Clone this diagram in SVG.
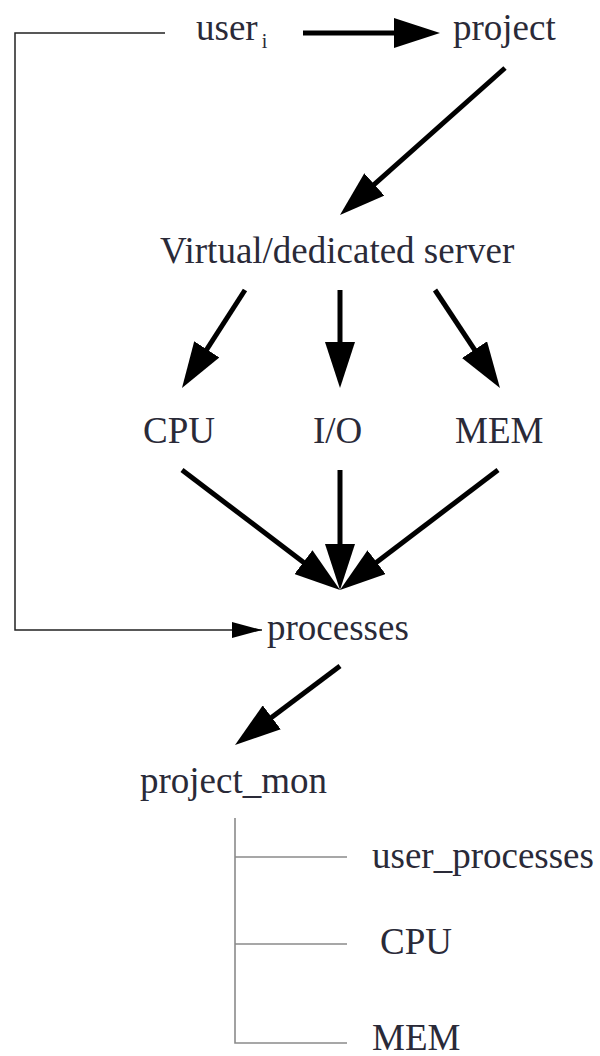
<svg xmlns="http://www.w3.org/2000/svg" width="600" height="1056" viewBox="0 0 600 1056">
  <style>
    .lbl { font-family: "Liberation Serif", "Times New Roman", serif; font-size: 37px; fill: #2a2a38; }
    .sub { font-size: 20px; }
    .thick { stroke: #000; stroke-width: 5; fill: none; marker-end: url(#bigHead); }
    .thin { stroke: #222; stroke-width: 1.5; fill: none; }
    .tree { stroke: #8a8a8a; stroke-width: 1.6; fill: none; }
  </style>
  <defs>
    <marker id="bigHead" markerUnits="userSpaceOnUse" markerWidth="46" markerHeight="30" refX="26" refY="15" orient="auto">
      <path d="M0,0 L46,15 L0,30 Z" fill="#000"/>
    </marker>
    <marker id="smallHead" markerUnits="userSpaceOnUse" markerWidth="30" markerHeight="16" refX="30" refY="8" orient="auto">
      <path d="M0,0 L30,8 L0,16 Z" fill="#000"/>
    </marker>
  </defs>
  <rect width="600" height="1056" fill="#fff"/>

  <g id="connectors">
    <path class="thick" d="M303,33 L420,33"/>
    <path class="thick" d="M505,68 L354.9,201.7"/>
    <path class="thick" d="M245,290 L192.8,371.2"/>
    <path class="thick" d="M340,290 L340,368"/>
    <path class="thick" d="M435,290 L488.9,371.3"/>
    <path class="thick" d="M182,470 L324.1,577.9"/>
    <path class="thick" d="M340,470 L340,570"/>
    <path class="thick" d="M498,470 L355.9,577.9"/>
    <path class="thick" d="M340,666 L251,733"/>
    <path class="thin" d="M165,33 L15,33 L15,630 L262,630" marker-end="url(#smallHead)"/>
    <path class="tree" d="M235,818 L235,1043 L347,1043 M235,857 L347,857 M235,944 L347,944"/>
  </g>

  <g id="node-user"><text class="lbl" x="196" y="40">user<tspan class="sub" dx="4" dy="8">i</tspan></text></g>
  <g id="node-project"><text class="lbl" x="453" y="40">project</text></g>
  <g id="node-server"><text class="lbl" x="160" y="263">Virtual/dedicated server</text></g>
  <g id="node-cpu"><text class="lbl" x="143" y="443">CPU</text></g>
  <g id="node-io"><text class="lbl" x="313" y="443">I/O</text></g>
  <g id="node-mem"><text class="lbl" x="455" y="443">MEM</text></g>
  <g id="node-processes"><text class="lbl" x="267" y="640">processes</text></g>
  <g id="node-project-mon"><text class="lbl" x="140" y="793">project_mon</text></g>
  <g id="node-user-processes"><text class="lbl" x="372" y="868">user_processes</text></g>
  <g id="node-mon-cpu"><text class="lbl" x="380" y="954">CPU</text></g>
  <g id="node-mon-mem"><text class="lbl" x="372" y="1050">MEM</text></g>
</svg>
